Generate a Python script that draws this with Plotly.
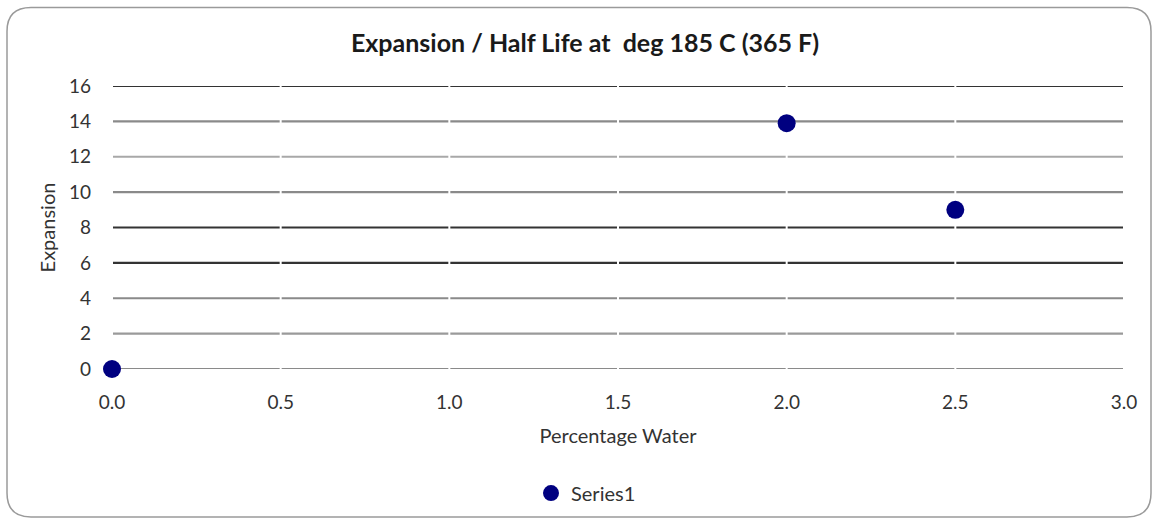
import plotly.graph_objects as go

# Data
water_pct = [0.0, 2.0, 2.5]
expansion = [0.0, 13.9, 9.0]
series_name = "Series1"
y_ticks = [0, 2, 4, 6, 8, 10, 12, 14, 16]
x_ticks = [0.0, 0.5, 1.0, 1.5, 2.0, 2.5, 3.0]

W, H = 1158, 525
ml, mr, mt, mb = 112, 34, 86, 154
pw, ph = W - ml - mr, H - mt - mb

fig = go.Figure()
fig.add_trace(go.Scatter(
    x=water_pct, y=expansion, mode="markers", name=series_name,
    marker=dict(color="#000080", size=18, line=dict(width=0)),
    cliponaxis=False,
))

# horizontal gridlines (varied shades as in the reference rendering)
grid_cols = {0: "#8a8a8a", 2: "#9a9a9a", 4: "#8a8a8a", 6: "#333333", 8: "#333333",
             10: "#8a8a8a", 12: "#a8a8a8", 14: "#8a8a8a", 16: "#333333"}
shapes = []
for yv in y_ticks:
    shapes.append(dict(type="line", xref="paper", yref="y", x0=0, x1=1, y0=yv, y1=yv,
                       line=dict(color=grid_cols[yv], width=2.2), layer="below"))
# white separators at x ticks
for xv in x_ticks:
    shapes.append(dict(type="line", xref="x", yref="paper", x0=xv, x1=xv, y0=-0.01, y1=1.01,
                       line=dict(color="white", width=2), layer="below"))

# rounded chart border
def px(x):
    return (x - ml) / pw
def py(y):
    return (H - mb - y) / ph
x0p, x1p, y0p, y1p, r = 7, 1151, 7, 520, 24
path = (f"M {px(x0p+r)},{py(y0p)} L {px(x1p-r)},{py(y0p)} "
        f"Q {px(x1p)},{py(y0p)} {px(x1p)},{py(y0p+r)} "
        f"L {px(x1p)},{py(y1p-r)} Q {px(x1p)},{py(y1p)} {px(x1p-r)},{py(y1p)} "
        f"L {px(x0p+r)},{py(y1p)} Q {px(x0p)},{py(y1p)} {px(x0p)},{py(y1p-r)} "
        f"L {px(x0p)},{py(y0p+r)} Q {px(x0p)},{py(y0p)} {px(x0p+r)},{py(y0p)} Z")
shapes.append(dict(type="path", xref="paper", yref="paper", path=path,
                   line=dict(color="#9a9a9a", width=1.5), layer="below"))

font_fam = "Lato, 'Open Sans', sans-serif"
fig.update_layout(
    width=W, height=H,
    margin=dict(l=ml, r=mr, t=mt, b=mb),
    paper_bgcolor="white", plot_bgcolor="white",
    font=dict(family=font_fam, color="#333333", size=19),
    title=dict(text="<b>Expansion / Half Life at  deg 185 C (365 F)</b>",
               x=(585 - ml) / pw, xref="paper", xanchor="center", y=1 - 43 / H, yanchor="middle",
               font=dict(size=25, color="#1a1a1a", family=font_fam)),
    xaxis=dict(range=[0, 3], tickvals=x_ticks, tickformat=".1f", showgrid=False,
               zeroline=False, showline=False, ticks="", ticklabelstandoff=20,
               title=dict(text="Percentage Water", standoff=16, font=dict(size=20)),
               fixedrange=True),
    yaxis=dict(range=[0, 16], tickvals=y_ticks, showgrid=False, zeroline=False,
               showline=False, ticks="", ticklabelstandoff=20,
               title=dict(text="Expansion", standoff=7, font=dict(size=20)),
               fixedrange=True),
    showlegend=True,
    legend=dict(orientation="h", x=(586 - ml) / pw, xanchor="center", y=(H - mb - 496) / ph,
                yanchor="middle", font=dict(size=20), itemwidth=30),
    shapes=shapes,
)

fig.write_html("out.html", config={"displayModeBar": False},
               post_script="document.body.style.margin='0';")
